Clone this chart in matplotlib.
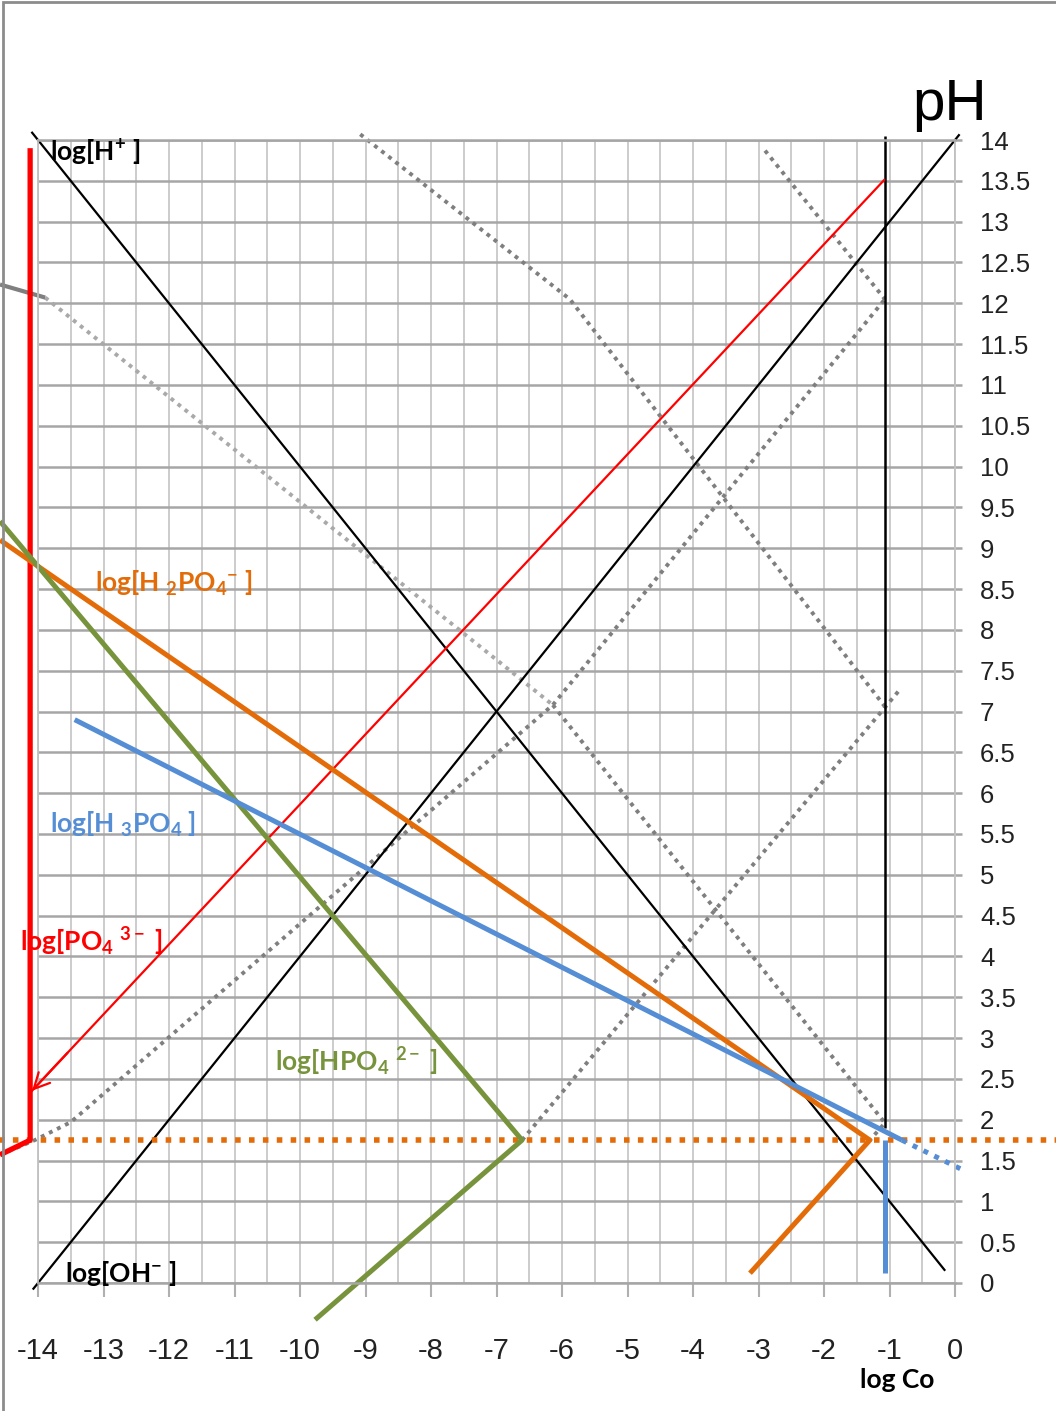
import numpy as np
import matplotlib
matplotlib.use("Agg")
import matplotlib.pyplot as plt
from matplotlib.patches import Rectangle

plt.rcParams["axes.unicode_minus"] = False
plt.rcParams["mathtext.fontset"] = "custom"
plt.rcParams["mathtext.rm"] = "Lato:bold"
plt.rcParams["mathtext.it"] = "Lato:bold"
plt.rcParams["mathtext.bf"] = "Lato:bold"

# ---- data: x = log Co, y = pH ----
H_X, H_PH = [-14.1, -0.15], [14.1, 0.15]                # log[H+]
OH_X, OH_PH = [-14.08, 0.07], [-0.08, 14.07]            # log[OH-]
CO_X, CO_PH = [-1.07, -1.07], [14.05, 1.9]              # log Co vertical
PO4_THIN_X, PO4_THIN_PH = [-14.12, -1.07], [2.33, 13.52]
PO4_X, PO4_PH = [-14.12, -14.12, -14.58], [13.9, 1.75, 1.57]
H2PO4_X, H2PO4_PH = [-14.58, -1.30, -3.13], [9.1, 1.75, 0.12]
HPO4_X, HPO4_PH = [-14.58, -6.61, -9.77], [9.33, 1.75, -0.45]
H3PO4_X, H3PO4_PH = [-13.44, -0.81], [6.90, 1.75]
H3PO4_V_X, H3PO4_V_PH = [-1.07, -1.07], [1.75, 0.12]
H3PO4_DOT_X, H3PO4_DOT_PH = [-0.81, 0.08], [1.75, 1.40]
PH_SYS_X, PH_SYS = [-14.6, 1.6], [1.75, 1.75]

# gray construction lines
DA_X, DA_PH = [-9.08, -5.88, -1.07], [14.07, 12.05, 7.06]
DB_X, DB_PH = [-6.61, -0.84], [1.75, 7.27]
DC_X, DC_PH = [-14.58, -14.05, -13.5, -6.14, -1.07], [1.57, 1.75, 1.97, 7.08, 12.05]
DD_X, DD_PH = [-2.90, -1.07], [13.87, 12.05]
DE_LIGHT_X, DE_LIGHT_PH = [-13.89, -6.14], [12.07, 7.08]
DE_DARK_X, DE_DARK_PH = [-6.14, -1.07, -1.3], [7.08, 1.96, 1.75]
GRAY_X, GRAY_PH = [-14.58, -13.89], [12.23, 12.07]

X_TICKS = list(range(-14, 1))
Y_TICKS = list(np.arange(0, 14.01, 0.5))

ORANGE, GREEN, BLUE, RED = "#E36C09", "#77933C", "#558ED5", "#FF0000"
DGRAY, LGRAY = "#7f7f7f", "#a9a9a9"
TICKFONT = ["Liberation Sans", "DejaVu Sans"]

fig = plt.figure(figsize=(10.56, 14.11), dpi=100)
ax = fig.add_axes([38 / 1056, 128 / 1411, 917 / 1056, 1143 / 1411])
ax.set_xlim(-14, 0); ax.set_ylim(0, 14)

# grid
ax.set_xticks(X_TICKS)
ax.set_xticks(np.arange(-13.5, 0, 1), minor=True)
ax.set_xticklabels([str(v) for v in X_TICKS], family=TICKFONT, fontsize=21, color="#222222")
ax.yaxis.tick_right()
ax.set_yticks(Y_TICKS)
ax.set_yticklabels([f"{v:g}" for v in Y_TICKS], family=TICKFONT, fontsize=18.5, color="#222222")
ax.tick_params(axis="x", which="major", length=10, width=1.5, color="#b0b0b0", pad=29)
ax.tick_params(axis="x", which="minor", length=0)
ax.tick_params(axis="y", length=5, width=1.8, color="#a6a6a6", pad=13)
ax.grid(True, axis="x", which="both", color="#c8c8c8", lw=1.3)
ax.grid(True, axis="y", color="#a6a6a6", lw=1.8)
ax.set_axisbelow(True)
for side, s in ax.spines.items():
    s.set_color("#a6a6a6" if side in ("top", "bottom") else "#c0c0c0")
    s.set_linewidth(1.8 if side in ("top", "bottom") else 1.3)

kw = dict(clip_on=False, solid_capstyle="butt")
# gray dotted construction lines
dot = (0, (1.0, 1.3))
ax.plot(DA_X, DA_PH, color=DGRAY, lw=2.8, ls=dot, **kw)
ax.plot(DB_X, DB_PH, color=DGRAY, lw=2.8, ls=dot, **kw)
ax.plot(DC_X, DC_PH, color=DGRAY, lw=2.8, ls=dot, **kw)
ax.plot(DD_X, DD_PH, color=DGRAY, lw=2.8, ls=dot, **kw)
ax.plot(DE_LIGHT_X, DE_LIGHT_PH, color=LGRAY, lw=2.8, ls=dot, **kw)
ax.plot(DE_DARK_X, DE_DARK_PH, color=DGRAY, lw=2.8, ls=dot, **kw)
ax.plot(GRAY_X, GRAY_PH, color=DGRAY, lw=3, **kw)

# water lines and Co
ax.plot(H_X, H_PH, color="black", lw=1.6, **kw)
ax.plot(OH_X, OH_PH, color="black", lw=1.6, **kw)
ax.plot(CO_X, CO_PH, color="black", lw=1.8, **kw)

# species
ax.plot(PH_SYS_X, PH_SYS, color=ORANGE, lw=4, ls=(0, (1.0, 1.5)), **kw)
ax.plot(PO4_THIN_X, PO4_THIN_PH, color=RED, lw=1.6, **kw)
ax.annotate("", xy=(PO4_THIN_X[0], PO4_THIN_PH[0]),
            xytext=(PO4_THIN_X[0] + 0.6, PO4_THIN_PH[0] + 0.6 * 0.857),
            arrowprops=dict(arrowstyle="->", color=RED, lw=1.6, mutation_scale=28),
            annotation_clip=False)
ax.plot(PO4_X, PO4_PH, color=RED, lw=3.8, **kw)
ax.plot(H2PO4_X, H2PO4_PH, color=ORANGE, lw=3.6, **kw)
ax.plot(HPO4_X, HPO4_PH, color=GREEN, lw=3.6, **kw)
ax.plot(H3PO4_X, H3PO4_PH, color=BLUE, lw=3.6, **kw)
ax.plot(H3PO4_V_X, H3PO4_V_PH, color=BLUE, lw=3.6, **kw)
ax.plot(H3PO4_DOT_X, H3PO4_DOT_PH, color=BLUE, lw=3.6, ls=(0, (1.0, 1.4)), **kw)

# labels
lab = dict(fontsize=19, family="Lato", fontweight="bold", va="baseline", ha="left")
ax.text(-13.82, 13.74, r"log[H$^{+}$ ]", color="black", **lab)
ax.text(-13.13, 8.47, r"log[H $_{2}$PO$_{4}$$^{-}$ ]", color=ORANGE, **lab)
ax.text(-13.82, 5.51, r"log[H $_{3}$PO$_{4}$ ]", color=BLUE, **lab)
ax.text(-14.27, 4.06, r"log[PO$_{4}$ $^{3-}$ ]", color=RED, **lab)
ax.text(-10.38, 2.59, r"log[HPO$_{4}$ $^{2-}$ ]", color=GREEN, **lab)
ax.text(-13.59, 0.01, r"log[OH$^{-}$ ]", color="black", **lab)
ax.text(-1.45, -1.29, "log Co", color="black", **lab)
ax.text(-0.08, 14.25, "pH", family=TICKFONT, fontsize=42, color="black",
        ha="center", va="baseline")

# outer chart border (only top/left visible in the crop)
fig.patches.append(Rectangle((3 / 1056, -0.05), 1.2, 1.05 - 3 / 1411 + 0.001,
                             transform=fig.transFigure, fill=False,
                             edgecolor="#8c8c8c", lw=2))

fig.savefig("out.png", dpi=100)
